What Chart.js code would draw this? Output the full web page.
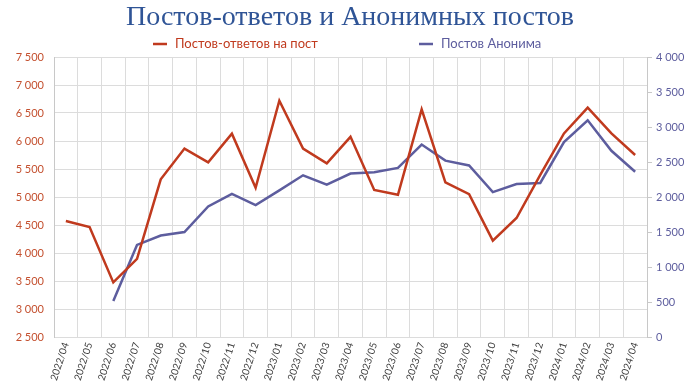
<!DOCTYPE html>
<html>
<head>
<meta charset="utf-8">
<script src="https://cdn.jsdelivr.net/npm/chart.js@4.4.1/dist/chart.umd.min.js"></script>
<style>
  html, body { margin: 0; padding: 0; background: #fff; }
  #wrap { width: 700px; height: 386px; }
</style>
</head>
<body>
<div id="wrap"><canvas id="postsChart" width="700" height="386"></canvas></div>
<script>
// chart data
const months = ['2022/04', '2022/05', '2022/06', '2022/07', '2022/08', '2022/09', '2022/10', '2022/11', '2022/12',
  '2023/01', '2023/02', '2023/03', '2023/04', '2023/05', '2023/06', '2023/07', '2023/08', '2023/09', '2023/10',
  '2023/11', '2023/12', '2024/01', '2024/02', '2024/03', '2024/04'];
const replies = [4570, 4465, 3475, 3895, 5315, 5865, 5620, 6130, 5165, 6720, 5865, 5600, 6075,
  5125, 5040, 6565, 5260, 5050, 4220, 4625, 5395, 6135, 6595, 6135, 5750];
const anon = [null, null, 515, 1315, 1450, 1500, 1865, 2045, 1885, 2095, 2310, 2175, 2335,
  2355, 2415, 2750, 2520, 2450, 2070, 2185, 2200, 2785, 3095, 2660, 2360];
const leftTicks = [2500, 3000, 3500, 4000, 4500, 5000, 5500, 6000, 6500, 7000, 7500];
const rightTicks = [0, 500, 1000, 1500, 2000, 2500, 3000, 3500, 4000];

const red = '#C03A1E';
const blue = '#5D5D9E';
const gridColor = '#DCDCDC';
const sans = "Lato, 'Open Sans', sans-serif";

const fmt = v => String(v).replace(/\B(?=(\d{3})+(?!\d))/g, ' ');

// legend drawn like the office one: short line + coloured text
const officeLegend = {
  id: 'officeLegend',
  afterDraw(chart) {
    const ctx = chart.ctx;
    const starts = [153, 419];
    ctx.save();
    ctx.font = '13px ' + sans;
    ctx.textBaseline = 'middle';
    chart.data.datasets.forEach((ds, i) => {
      const x = starts[i];
      const y = 44;
      ctx.strokeStyle = ds.borderColor;
      ctx.lineWidth = 2.5;
      ctx.beginPath();
      ctx.moveTo(x, y);
      ctx.lineTo(x + 14, y);
      ctx.stroke();
      ctx.fillStyle = ds.borderColor;
      ctx.fillText(ds.label, x + 22, y);
    });
    ctx.restore();
  }
};

new Chart(document.getElementById('postsChart'), {
  type: 'line',
  data: {
    labels: months,
    datasets: [
      {
        label: 'Постов-ответов на пост',
        data: replies,
        yAxisID: 'y',
        borderColor: red,
        backgroundColor: red,
        borderWidth: 2.5,
        pointRadius: 0,
        tension: 0
      },
      {
        label: 'Постов Анонима',
        data: anon,
        yAxisID: 'y1',
        borderColor: blue,
        backgroundColor: blue,
        borderWidth: 2.5,
        pointRadius: 0,
        tension: 0
      }
    ]
  },
  options: {
    responsive: false,
    animation: false,
    layout: { padding: 0 },
    plugins: {
      legend: { display: false },
      tooltip: { enabled: false },
      title: {
        display: true,
        text: 'Постов-ответов и Анонимных постов',
        color: '#2F5496',
        font: { family: "'Liberation Serif', 'DejaVu Serif', serif", size: 28, weight: 'normal', lineHeight: 1.2 },
        padding: { top: 1, bottom: 22.4 }
      }
    },
    scales: {
      x: {
        offset: true,
        grid: { color: gridColor, offset: true, drawTicks: false },
        border: { color: gridColor },
        ticks: {
          color: '#404040',
          font: { family: sans, size: 10 },
          minRotation: 72,
          maxRotation: 72,
          padding: 4,
          autoSkip: false
        },
        afterFit: s => { s.height = 49; }
      },
      y: {
        position: 'left',
        min: 2500,
        max: 7500,
        afterBuildTicks: s => { s.ticks = leftTicks.map(v => ({ value: v })); },
        grid: { color: gridColor, drawTicks: false },
        border: { color: '#C8C8C8' },
        ticks: { color: '#C4502F', font: { family: sans, size: 11 }, padding: 10, callback: v => fmt(v) },
        afterFit: s => { s.width = 54; }
      },
      y1: {
        position: 'right',
        min: 0,
        max: 4000,
        afterBuildTicks: s => { s.ticks = rightTicks.map(v => ({ value: v })); },
        grid: { drawOnChartArea: false, color: '#C8C8C8', tickLength: 5 },
        border: { color: '#C8C8C8' },
        ticks: { color: blue, font: { family: sans, size: 11 }, padding: 4, callback: v => fmt(v) },
        afterFit: s => { s.width = 53; }
      }
    }
  },
  plugins: [officeLegend]
});
</script>
</body>
</html>
